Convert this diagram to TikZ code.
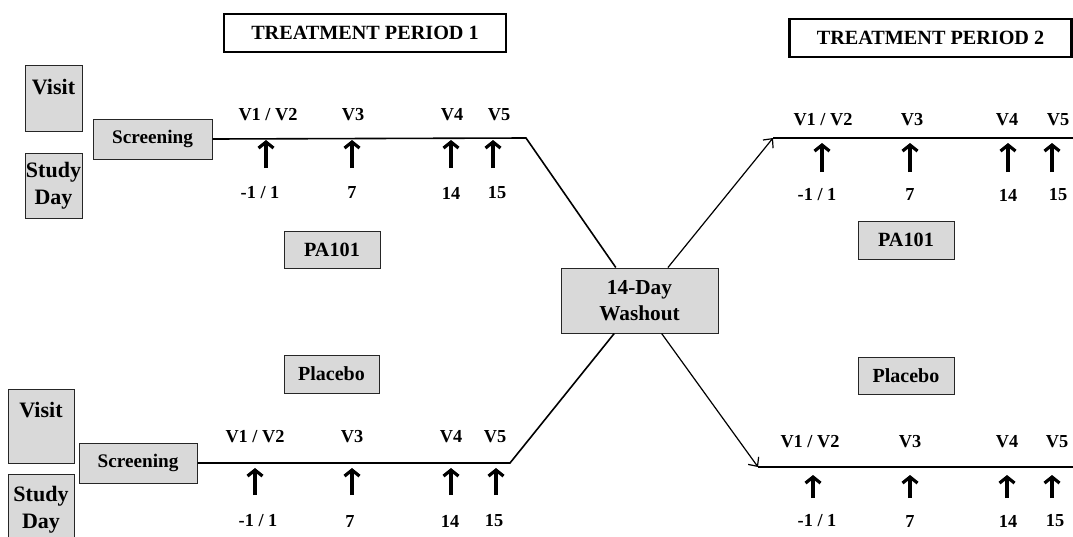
\documentclass[tikz,border=0pt]{standalone}
\usepackage{fontspec}
\setmainfont{Liberation Serif}
\usetikzlibrary{arrows.meta,calc}

\begin{document}
\begin{tikzpicture}[x=1pt, y=-1pt,
    gbox/.style={draw=black!85, fill=black!15, line width=1pt, inner sep=0pt},
    title/.style={draw, line width=2.6pt, minimum width=282pt, minimum height=38pt,
      inner sep=0pt, font=\fontsize{20.2}{21}\selectfont\bfseries},
    vlab/.style={font=\fontsize{18.3}{20}\selectfont\bfseries},
    visarrow/.style={line width=3.2pt,
      -{Straight Barb[length=6pt, width=15pt, line width=3.2pt]}},
    tline/.style={line width=1.6pt}]
    \useasboundingbox (0,0) rectangle (1073,536);
    \clip (0,0) rectangle (1073,536);

    \node [title] (tp1) at (365,33) {TREATMENT PERIOD 1};
    \node [title] (tp2) at (930.5,38) {TREATMENT PERIOD 2};

    \begin{scope}[every node/.style={gbox}]
      \node [minimum width=57pt, minimum height=66pt,
        label={[anchor=north, yshift=-14pt, font=\fontsize{22}{22}\selectfont\bfseries]north:Visit}]
        (visA) at (53.5,98) {};
      \node [minimum width=57pt, minimum height=65pt, align=center,
        font=\fontsize{22}{27}\selectfont\bfseries] (dayA) at (53.5,185.5) {Study\\Day};
      \node [minimum width=119pt, minimum height=40pt,
        font=\fontsize{19.2}{20}\selectfont\bfseries] (scrA) at (152.5,139) {Screening};
      \node [minimum width=66pt, minimum height=74pt,
        label={[anchor=north, yshift=-13pt, font=\fontsize{22}{22}\selectfont\bfseries]north:Visit}]
        (visB) at (41,426) {};
      \node [minimum width=66pt, minimum height=72pt, align=center,
        font=\fontsize{22}{27}\selectfont\bfseries] (dayB) at (41,510) {Study\\Day};
      \node [minimum width=118pt, minimum height=40pt,
        font=\fontsize{19.2}{20}\selectfont\bfseries] (scrB) at (138,463) {Screening};
      \node [minimum width=96pt, minimum height=37pt,
        font=\fontsize{20.2}{21}\selectfont\bfseries] (drugA) at (332,249.5) {PA101};
      \node [minimum width=95pt, minimum height=38pt,
        font=\fontsize{20}{21}\selectfont\bfseries] (plcA) at (331.5,374) {Placebo};
      \node [minimum width=96pt, minimum height=38pt,
        font=\fontsize{20.2}{21}\selectfont\bfseries] (drugB) at (906,240) {PA101};
      \node [minimum width=96pt, minimum height=37pt,
        font=\fontsize{20}{21}\selectfont\bfseries] (plcB) at (906,375.5) {Placebo};
      \node [minimum width=157pt, minimum height=65pt, align=center,
        font=\fontsize{21.3}{26}\selectfont\bfseries] (wash) at (639.5,300.5) {14-Day\\Washout};
    \end{scope}

    \coordinate (endA) at (526,138);
    \coordinate (startB) at (773,138);
    \coordinate (endC) at (510,463);
    \coordinate (startD) at (758,467);
    \coordinate (rimB) at (1073,138);
    \coordinate (rimD) at (1073,467);

    \begin{scope}[tline]
      \draw (scrA.east) -- (endA) -- ($(wash.north west)!0.35!(wash.north east)$);
      \draw (scrB.east) -- (endC) -- ($(wash.south west)!0.34!(wash.south east)$);
      \draw (startB) -- (rimB);
      \draw (startD) -- (rimD);
    \end{scope}
    \begin{scope}[line width=1.2pt, -{Straight Barb[length=7pt, width=13pt]}]
      \draw ($(wash.north west)!0.68!(wash.north east)$) -- (startB);
      \draw ($(wash.south west)!0.64!(wash.south east)$) -- (startD);
    \end{scope}

    \foreach \i/\lx/\ax/\nx/\v/\d in {1/268/266/260/{V1 / V2}/{-1 / 1}, 2/353/352/352/V3/7,
        3/452/451/451/V4/14, 4/499/493/497/V5/15} {
      \node [vlab] (lA\i) at (\lx,115) {\v};
      \node [vlab] (nA\i) at (\nx,193) {\d};
      \coordinate (aA\i) at (\ax,168);
      \coordinate (tA\i) at (\ax,140);
      \draw [visarrow] (aA\i) -- (tA\i);
    }
    \foreach \i/\lx/\ax/\nx/\v/\d in {1/823/822/817/{V1 / V2}/{-1 / 1}, 2/912/910/910/V3/7,
        3/1007/1008/1008/V4/14, 4/1058/1052/1058/V5/15} {
      \node [vlab] (lB\i) at (\lx,120) {\v};
      \node [vlab] (nB\i) at (\nx,195) {\d};
      \coordinate (aB\i) at (\ax,172);
      \coordinate (tB\i) at (\ax,143);
      \draw [visarrow] (aB\i) -- (tB\i);
    }
    \foreach \i/\lx/\ax/\nx/\v/\d in {1/255/255/258/{V1 / V2}/{-1 / 1}, 2/352/352/350/V3/7,
        3/451/451/450/V4/14, 4/495/496/494/V5/15} {
      \node [vlab] (lC\i) at (\lx,437) {\v};
      \node [vlab] (nC\i) at (\nx,521) {\d};
      \coordinate (aC\i) at (\ax,495);
      \coordinate (tC\i) at (\ax,468);
      \draw [visarrow] (aC\i) -- (tC\i);
    }
    \foreach \i/\lx/\ax/\nx/\v/\d in {1/810/813/817/{V1 / V2}/{-1 / 1}, 2/910/910/910/V3/7,
        3/1007/1007/1008/V4/14, 4/1057/1052/1055/V5/15} {
      \node [vlab] (lD\i) at (\lx,442) {\v};
      \node [vlab] (nD\i) at (\nx,521) {\d};
      \coordinate (aD\i) at (\ax,498);
      \coordinate (tD\i) at (\ax,475);
      \draw [visarrow] (aD\i) -- (tD\i);
    }
  \end{tikzpicture}
\end{document}
